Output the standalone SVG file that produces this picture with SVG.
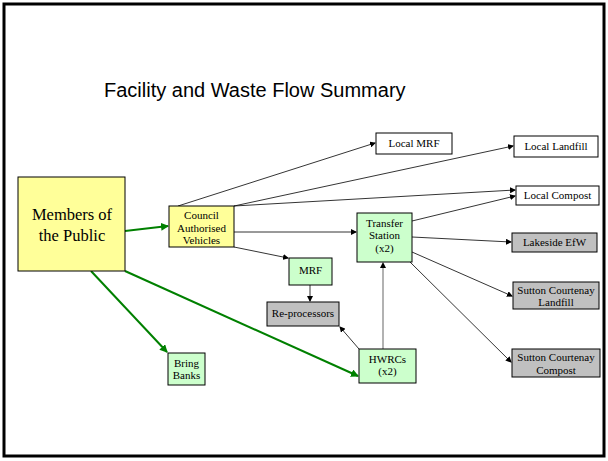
<svg xmlns="http://www.w3.org/2000/svg" width="608" height="461" viewBox="0 0 608 461">
<defs>
<marker id="ab" markerWidth="6" markerHeight="6" refX="5" refY="3" orient="auto" markerUnits="userSpaceOnUse"><path d="M0,0 L6,3 L0,6 z" fill="#000"/></marker>
<marker id="ag" markerWidth="8" markerHeight="8" refX="7" refY="4" orient="auto" markerUnits="userSpaceOnUse"><path d="M0,0 L8,4 L0,8 z" fill="#008000"/></marker>
<style>
.t{font-family:"Liberation Serif","Times New Roman",serif;font-size:11px;fill:#000;text-anchor:middle}
.b{stroke:#000;stroke-width:1}
.y{fill:#FFFF99}
.g{fill:#CCFFCC}
.s{fill:#C0C0C0}
.w{fill:#FFFFFF}
.k{stroke:#000;stroke-width:0.8;fill:none;marker-end:url(#ab)}
.gr{stroke:#008000;stroke-width:2;fill:none;marker-end:url(#ag)}
</style>
</defs>
<rect x="0" y="0" width="608" height="461" fill="#fff"/>
<rect x="4" y="4" width="600" height="452" fill="none" stroke="#000" stroke-width="3"/>
<text x="104" y="97" font-family="Liberation Sans, Arial, sans-serif" font-size="20" fill="#000">Facility and Waste Flow Summary</text>
<g id="connectors">
<line class="gr" x1="125" y1="231" x2="168" y2="226"/>
<line class="gr" x1="91" y1="271" x2="167" y2="352"/>
<line class="gr" x1="125" y1="271" x2="358" y2="376"/>
<line class="k" x1="178" y1="206" x2="375" y2="143"/>
<line class="k" x1="234" y1="206" x2="513" y2="146"/>
<line class="k" x1="234" y1="206" x2="515" y2="190"/>
<line class="k" x1="234" y1="232" x2="356" y2="232"/>
<line class="k" x1="234" y1="247" x2="288" y2="258"/>
<line class="k" x1="310" y1="285" x2="310" y2="301"/>
<line class="k" x1="359" y1="349" x2="340" y2="327"/>
<line x1="383" y1="349" x2="383" y2="265" stroke="#999" stroke-width="1.5"/>
<path d="M380,268 L383,262 L386,268 z" fill="#000"/>
<line class="k" x1="412" y1="221" x2="515" y2="196"/>
<line class="k" x1="412" y1="237" x2="511" y2="242"/>
<line class="k" x1="412" y1="252" x2="512" y2="296"/>
<line class="k" x1="410" y1="262" x2="511" y2="362"/>
</g>
<g id="members"><rect class="b y" x="18" y="177" width="107" height="94"/><text class="t" style="font-size:16.5px" x="72" y="220">Members of</text><text class="t" style="font-size:16.5px" x="72" y="241">the Public</text></g>
<g id="council"><rect class="b y" x="169" y="206" width="65" height="41"/><text class="t" x="201.5" y="219">Council</text><text class="t" x="201.5" y="232">Authorised</text><text class="t" x="201.5" y="244">Vehicles</text></g>
<g id="bring"><rect class="b g" x="168" y="353" width="37" height="32"/><text class="t" x="186.5" y="367">Bring</text><text class="t" x="186.5" y="379">Banks</text></g>
<g id="mrf"><rect class="b g" x="289" y="258" width="43" height="27"/><text class="t" x="310.5" y="274">MRF</text></g>
<g id="reproc"><rect class="b s" x="267" y="302" width="72" height="24"/><text class="t" x="303" y="317">Re-processors</text></g>
<g id="hwrc"><rect class="b g" x="359" y="349" width="57" height="34"/><text class="t" x="387.5" y="363">HWRCs</text><text class="t" x="387.5" y="375">(x2)</text></g>
<g id="transfer"><rect class="b g" x="357" y="213" width="55" height="49"/><text class="t" x="384.5" y="227">Transfer</text><text class="t" x="384.5" y="239">Station</text><text class="t" x="384.5" y="252">(x2)</text></g>
<g id="localmrf"><rect class="b w" x="376" y="133" width="76" height="21"/><text class="t" x="414" y="147">Local MRF</text></g>
<g id="landfill"><rect class="b w" x="514" y="136" width="84" height="21"/><text class="t" x="556" y="150">Local Landfill</text></g>
<g id="compost"><rect class="b w" x="516" y="186" width="83" height="19"/><text class="t" x="557.5" y="199">Local Compost</text></g>
<g id="lakeside"><rect class="b s" x="512" y="233" width="85" height="19"/><text class="t" x="554.5" y="246">Lakeside EfW</text></g>
<g id="sclandfill"><rect class="b s" x="513" y="282" width="86" height="27"/><text class="t" x="556" y="294">Sutton Courtenay</text><text class="t" x="556" y="306">Landfill</text></g>
<g id="sccompost"><rect class="b s" x="512" y="349" width="88" height="28"/><text class="t" x="556" y="361">Sutton Courtenay</text><text class="t" x="556" y="374">Compost</text></g>
</svg>
